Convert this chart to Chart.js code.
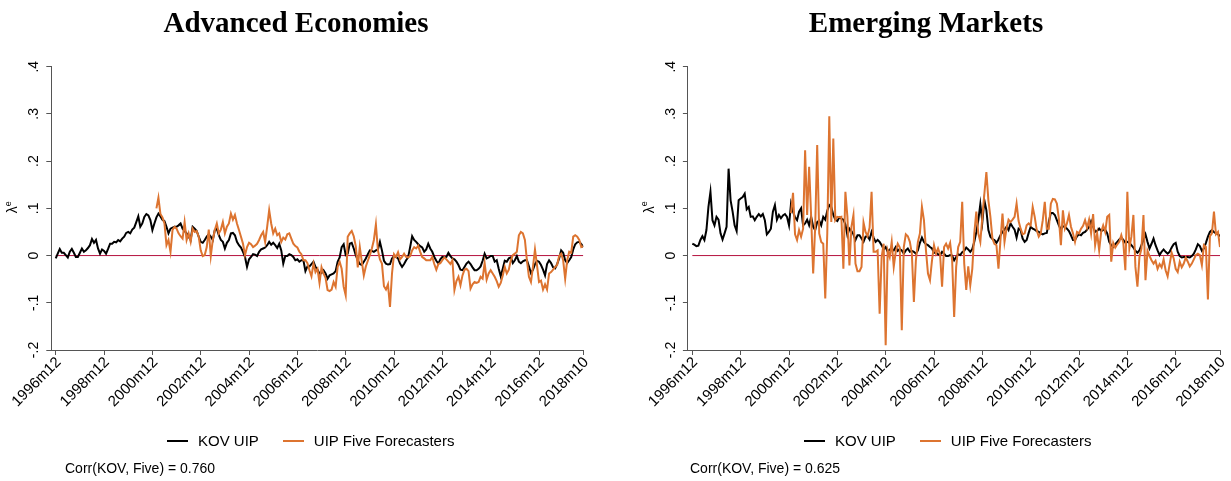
<!DOCTYPE html>
<html>
<head>
<meta charset="utf-8">
<script src="https://cdn.jsdelivr.net/npm/chart.js@4.4.0/dist/chart.umd.min.js"></script>
<style>
  body { margin: 0; background: #fff; width: 1231px; height: 481px; position: relative; overflow: hidden; }
  canvas { position: absolute; top: 0; }
  .title { position: absolute; top: 6px; height: 30px; line-height: 30px; font: bold 29px "Liberation Serif", "Times New Roman", serif; white-space: nowrap; transform: translateX(-50%); color: #000; }
  .legend { position: absolute; top: 432px; height: 16px; line-height: 16px; font: 15px "Liberation Sans", Arial, sans-serif; white-space: nowrap; color: #000; }
  .legend span.key { display: inline-block; width: 21px; height: 2px; vertical-align: middle; margin-right: 10px; position: relative; top: -1px; }
  .legend span.item { margin-right: 24px; }
  .note { position: absolute; top: 460px; line-height: 16px; font: 14px "Liberation Sans", Arial, sans-serif; white-space: nowrap; color: #000; }
</style>
</head>
<body>
<canvas id="adv" width="615" height="481" style="left:0"></canvas>
<canvas id="em" width="616" height="481" style="left:615px"></canvas>

<div class="title" style="left:296px">Advanced Economies</div>
<div class="title" style="left:926px">Emerging Markets</div>

<div class="legend" style="left:167px"><span class="key" style="background:#000"></span><span class="item">KOV UIP</span><span class="key" style="background:#dd7430"></span>UIP Five Forecasters</div>
<div class="legend" style="left:804px"><span class="key" style="background:#000"></span><span class="item">KOV UIP</span><span class="key" style="background:#dd7430"></span>UIP Five Forecasters</div>

<div class="note" style="left:65px">Corr(KOV, Five) = 0.760</div>
<div class="note" style="left:690px">Corr(KOV, Five) = 0.625</div>

<script>
// monthly series, index 0 = 1996m12, last = 2018m10
const xTickLabels = ['1996m12', '1998m12', '2000m12', '2002m12', '2004m12', '2006m12',
  '2008m12', '2010m12', '2012m12', '2014m12', '2016m12', '2018m10'];
const yTickValues = [-0.2, -0.1, 0, 0.1, 0.2, 0.3, 0.4];
const yTickLabels = ['-.2', '-.1', '0', '.1', '.2', '.3', '.4'];

const advKov = [
  -0.006, 0.004, 0.014, 0.006, 0.006, 0.001, -0.004, 0.008, 0.014, 0.006,
  -0.003, -0.003, 0.006, 0.015, 0.008, 0.011, 0.016, 0.022, 0.035, 0.027,
  0.033, 0.015, 0.004, 0.013, 0.010, 0.004, 0.014, 0.025, 0.025, 0.029,
  0.028, 0.033, 0.030, 0.036, 0.040, 0.048, 0.050, 0.047, 0.055, 0.059,
  0.071, 0.083, 0.061, 0.068, 0.082, 0.088, 0.085, 0.075, 0.054, 0.068,
  0.081, 0.089, 0.083, 0.076, 0.073, 0.061, 0.047, 0.057, 0.059, 0.061,
  0.061, 0.064, 0.068, 0.057, 0.052, 0.047, 0.040, 0.033, 0.061, 0.057,
  0.052, 0.040, 0.029, 0.027, 0.033, 0.040, 0.045, 0.040, 0.033, 0.054,
  0.057, 0.043, 0.033, 0.029, 0.015, 0.027, 0.033, 0.047, 0.048, 0.043,
  0.029, 0.022, 0.017, 0.008, -0.003, -0.024, -0.008, -0.003, 0.003, 0.002,
  -0.001, 0.008, 0.013, 0.015, 0.017, 0.022, 0.029, 0.023, 0.027, 0.022,
  0.016, 0.025, 0.011, -0.017, -0.001, -0.001, 0.003, 0.001, -0.003, -0.010,
  -0.008, -0.013, -0.010, -0.010, -0.033, -0.023, -0.023, -0.018, -0.013, -0.024,
  -0.030, -0.038, -0.037, -0.031, -0.038, -0.049, -0.042, -0.040, -0.038, -0.033,
  -0.013, -0.004, 0.018, 0.024, 0.001, 0.004, 0.025, 0.027, 0.015, 0.001,
  -0.010, -0.018, -0.020, -0.013, -0.006, 0.003, 0.011, 0.010, 0.008, 0.011,
  0.013, 0.029, 0.011, -0.011, -0.017, -0.019, -0.018, -0.006, -0.001, -0.003,
  -0.006, -0.017, -0.024, -0.018, -0.010, -0.004, 0.018, 0.041, 0.033, 0.029,
  0.024, 0.020, 0.017, 0.008, 0.013, 0.025, 0.015, 0.008, -0.003, -0.011,
  -0.017, -0.008, -0.003, -0.004, -0.003, 0.006, -0.001, -0.006, -0.008, -0.013,
  -0.020, -0.030, -0.031, -0.024, -0.017, -0.013, -0.018, -0.025, -0.031, -0.031,
  -0.028, -0.023, -0.011, 0.004, -0.006, -0.004, -0.001, -0.001, -0.013, -0.010,
  -0.028, -0.044, -0.028, -0.011, -0.013, -0.006, -0.004, -0.016, -0.010, -0.001,
  -0.013, -0.016, -0.012, -0.010, -0.010, -0.023, -0.037, -0.030, -0.018, -0.011,
  -0.013, -0.020, -0.030, -0.042, -0.018, -0.010, -0.016, -0.025, -0.027, -0.018,
  -0.006, 0.011, 0.006, -0.010, -0.016, -0.010, -0.003, 0.013, 0.024, 0.028,
  0.029, 0.024, 0.018
];

// Five Forecasters series begin later than KOV
const advFiveStart = 50;
const advFive = [
  0.100, 0.123, 0.088, 0.081, 0.068, 0.022, 0.033, 0.008, 0.054, 0.061,
  0.057, 0.047, 0.041, 0.036, 0.071, 0.033, 0.047, 0.029, 0.057, 0.050,
  0.052, 0.040, 0.011, -0.001, 0.001, 0.018, 0.055, -0.001, 0.033, 0.054,
  0.068, 0.047, 0.055, 0.071, 0.047, 0.061, 0.068, 0.089, 0.076, 0.086,
  0.068, 0.054, 0.040, 0.025, 0.001, 0.018, 0.027, 0.024, 0.018, 0.021,
  0.025, 0.033, 0.043, 0.050, 0.029, 0.061, 0.096, 0.068, 0.047, 0.057,
  0.043, 0.047, 0.029, 0.038, 0.034, 0.045, 0.047, 0.036, 0.025, 0.020,
  0.017, 0.008, 0.003, -0.010, -0.010, -0.016, -0.031, -0.044, -0.017, -0.035,
  -0.028, -0.058, -0.025, -0.038, -0.047, -0.073, -0.075, -0.072, -0.056, -0.066,
  -0.024, -0.013, -0.028, -0.066, -0.084, 0.040, 0.047, 0.052, 0.041, 0.020,
  -0.025, 0.018, -0.013, -0.042, -0.023, -0.011, 0.001, 0.015, 0.033, 0.066,
  0.011, -0.008, -0.017, -0.065, -0.072, -0.061, -0.109, -0.038, 0.003, -0.003,
  0.007, -0.008, -0.003, 0.004, -0.003, -0.004, -0.001, 0.011, 0.018, 0.015,
  0.021, 0.008, -0.003, -0.006, -0.010, -0.010, -0.010, -0.003, -0.018, -0.030,
  -0.018, -0.016, -0.010, -0.004, -0.008, -0.013, -0.018, -0.010, -0.073, -0.054,
  -0.045, -0.063, -0.042, -0.030, -0.028, -0.033, -0.070, -0.061, -0.056, -0.058,
  -0.056, -0.045, -0.049, -0.016, -0.051, -0.038, -0.031, -0.038, -0.045, -0.054,
  -0.066, -0.058, -0.042, -0.024, -0.038, -0.030, -0.010, 0.001, 0.004, 0.008,
  0.043, 0.050, 0.047, 0.033, -0.010, -0.045, -0.056, -0.024, 0.013, -0.020,
  -0.056, -0.053, -0.072, -0.061, -0.072, -0.038, -0.035, -0.030, -0.024, -0.020,
  -0.001, 0.004, -0.010, -0.049, -0.010, 0.008, 0.006, 0.040, 0.043, 0.040,
  0.033, 0.018, 0.020
];

const emKov = [
  0.025, 0.023, 0.020, 0.021, 0.033, 0.041, 0.033, 0.054, 0.103, 0.135,
  0.075, 0.064, 0.082, 0.076, 0.047, 0.034, 0.047, 0.061, 0.184, 0.117,
  0.093, 0.064, 0.052, 0.117, 0.121, 0.124, 0.131, 0.098, 0.103, 0.082,
  0.083, 0.075, 0.082, 0.088, 0.083, 0.088, 0.075, 0.045, 0.050, 0.057,
  0.093, 0.107, 0.076, 0.086, 0.079, 0.085, 0.088, 0.082, 0.064, 0.110,
  0.093, 0.081, 0.075, 0.093, 0.100, 0.064, 0.068, 0.076, 0.064, 0.082,
  0.061, 0.054, 0.071, 0.074, 0.064, 0.082, 0.076, 0.095, 0.107, 0.103,
  0.086, 0.076, 0.073, 0.081, 0.078, 0.076, 0.066, 0.043, 0.057, 0.052,
  0.045, 0.033, 0.043, 0.043, 0.036, 0.029, 0.040, 0.041, 0.034, 0.050,
  0.038, 0.029, 0.033, 0.029, 0.022, 0.013, 0.018, 0.008, 0.013, 0.013,
  0.011, 0.018, 0.010, 0.014, 0.011, 0.004, 0.011, 0.015, 0.008, 0.010,
  0.008, 0.004, 0.011, 0.027, 0.038, 0.029, 0.024, 0.022, 0.018, 0.015,
  0.006, 0.006, 0.003, 0.001, 0.008, 0.004, -0.001, -0.001, 0.001, 0.000,
  -0.010, -0.003, 0.003, 0.001, 0.007, 0.010, 0.017, 0.013, 0.008, 0.014,
  0.029, 0.050, 0.075, 0.109, 0.071, 0.117, 0.096, 0.054, 0.040, 0.035,
  0.033, 0.027, 0.034, 0.043, 0.050, 0.055, 0.061, 0.054, 0.068, 0.061,
  0.055, 0.038, 0.057, 0.054, 0.036, 0.029, 0.033, 0.048, 0.061, 0.057,
  0.055, 0.052, 0.050, 0.047, 0.045, 0.047, 0.048, 0.071, 0.090, 0.090,
  0.086, 0.075, 0.064, 0.055, 0.062, 0.061, 0.057, 0.052, 0.043, 0.033,
  0.033, 0.041, 0.045, 0.043, 0.048, 0.050, 0.055, 0.061, 0.073, 0.062,
  0.050, 0.052, 0.057, 0.052, 0.054, 0.055, 0.047, 0.029, 0.022, 0.018,
  0.024, 0.029, 0.034, 0.038, 0.033, 0.027, 0.029, 0.027, 0.022, 0.017,
  0.010, 0.006, 0.011, 0.022, 0.033, 0.045, 0.029, 0.015, 0.025, 0.036,
  0.022, 0.011, 0.001, 0.008, 0.013, 0.008, 0.004, 0.008, 0.017, 0.024,
  0.027, 0.008, -0.001, -0.004, -0.003, -0.003, -0.003, -0.004, -0.001, 0.004,
  0.013, 0.024, 0.020, 0.010, 0.015, 0.027, 0.040, 0.050, 0.054, 0.050,
  0.047, 0.045, 0.041
];

const emFiveStart = 49;
const emFive = [
  0.090,
  0.133, 0.045, 0.033, 0.054, 0.040, 0.057, 0.223, 0.086, 0.188, 0.082,
  -0.038, 0.061, 0.234, 0.047, 0.029, 0.025, -0.091, 0.047, 0.295, 0.071,
  0.248, 0.075, 0.082, 0.081, 0.082, -0.028, 0.135, 0.082, -0.021, 0.061,
  0.086, -0.017, -0.033, -0.033, -0.024, 0.070, 0.050, 0.041, 0.059, 0.135,
  0.008, 0.008, 0.011, -0.123, -0.003, 0.025, -0.190, 0.011, -0.003, 0.029,
  -0.024, 0.008, 0.025, 0.017, -0.158, 0.018, 0.045, 0.041, 0.029, 0.004,
  -0.098, -0.010, 0.029, 0.047, 0.103, 0.075, 0.011, -0.038, -0.052, -0.010,
  0.022, 0.004, 0.015, 0.003, -0.066, 0.018, 0.025, 0.015, 0.027, -0.010,
  -0.130, -0.024, 0.018, 0.029, 0.114, -0.017, -0.073, -0.023, -0.063, -0.028,
  0.047, 0.093, 0.047, 0.029, 0.082, 0.131, 0.177, 0.117, 0.082, 0.036,
  0.025, 0.022, -0.028, 0.033, 0.089, 0.029, 0.057, 0.076, 0.071, 0.076,
  0.082, 0.110, 0.073, 0.057, 0.045, 0.047, 0.064, 0.068, 0.064, 0.103,
  0.082, 0.054, 0.040, 0.047, 0.075, 0.114, 0.057, 0.057, 0.110, 0.120,
  0.119, 0.110, 0.078, 0.022, 0.096, 0.057, 0.068, 0.086, 0.061, 0.047,
  0.029, 0.050, 0.047, 0.057, 0.063, 0.075, 0.059, 0.076, 0.047, 0.088,
  0.022, 0.047, 0.011, 0.050, 0.064, 0.050, 0.082, 0.086, -0.013, 0.027,
  0.017, 0.024, 0.029, 0.043, 0.027, -0.031, 0.135, 0.015, 0.040, 0.086,
  -0.024, -0.066, -0.003, 0.015, 0.086, -0.052, 0.010, -0.001, -0.010, -0.017,
  -0.011, -0.028, -0.018, -0.025, -0.008, -0.031, -0.044, -0.018, 0.006, -0.006,
  -0.028, -0.035, -0.013, -0.025, -0.017, -0.004, -0.013, -0.023, -0.017, -0.008,
  0.001, 0.004, 0.001, -0.020, 0.022, 0.018, -0.093, 0.041, 0.047, 0.093,
  0.045, 0.050, 0.018
];

const ORANGE = '#dd7430';
const ZERO_RED = '#b5123e';
const AXIS_GRAY = '#555';

function monthIndex(label) {
  const [y, m] = label.split('m').map(Number);
  return (y - 1996) * 12 + (m - 12);
}
const xTickMonths = xTickLabels.map(monthIndex);
const lastMonth = xTickMonths[xTickMonths.length - 1];

const axisText = {
  id: 'axisText',
  afterDraw(chart) {
    const ctx = chart.ctx;
    const area = chart.chartArea;
    const xs = chart.scales.x, ys = chart.scales.y;
    ctx.save();
    ctx.fillStyle = '#000';
    ctx.font = '14px "Liberation Sans", Arial, sans-serif';

    // y tick labels, rotated
    yTickValues.forEach((v, i) => {
      const py = ys.getPixelForValue(v);
      ctx.save();
      ctx.translate(area.left - 17, py);
      ctx.rotate(-Math.PI / 2);
      ctx.textAlign = 'center';
      ctx.textBaseline = 'middle';
      ctx.fillText(yTickLabels[i], 0, 0);
      ctx.restore();
    });

    // x tick labels at 45 degrees
    ctx.font = '15px "Liberation Sans", Arial, sans-serif';
    xTickMonths.forEach((m, i) => {
      const px = xs.getPixelForValue(m);
      ctx.save();
      ctx.translate(px + 3, area.bottom + 10);
      ctx.rotate(-Math.PI / 4);
      ctx.textAlign = 'right';
      ctx.textBaseline = 'middle';
      ctx.fillText(xTickLabels[i], 0, 0);
      ctx.restore();
    });

    // y axis title: lambda with superscript e
    const midY = ys.getPixelForValue(0.1);
    ctx.save();
    ctx.translate(area.left - 38, midY);
    ctx.rotate(-Math.PI / 2);
    ctx.textBaseline = 'middle';
    ctx.textAlign = 'left';
    ctx.font = '14px "Liberation Sans", Arial, sans-serif';
    const w = ctx.measureText('λ').width;
    ctx.fillText('λ', -5, 0);
    ctx.font = '9px "Liberation Sans", Arial, sans-serif';
    ctx.fillText('e', -5 + w, -5);
    ctx.restore();

    ctx.restore();
  }
};

function makePanel(id, kov, five, fiveStart, area) {
  const canvas = document.getElementById(id);
  const W = canvas.width, H = canvas.height;
  const kovPts = kov.map((v, i) => ({ x: i, y: v }));
  const fivePts = five.map((v, i) => ({ x: fiveStart + i, y: v }));
  const axisGrid = { display: true, drawOnChartArea: false, drawTicks: true, tickLength: 5, color: AXIS_GRAY, lineWidth: 1 };
  const axisBorder = { display: true, color: AXIS_GRAY, width: 1 };

  new Chart(canvas, {
    type: 'line',
    data: {
      datasets: [
        { label: 'UIP Five Forecasters', data: fivePts, borderColor: ORANGE, borderWidth: 2, pointRadius: 0, tension: 0, order: 1 },
        { label: 'KOV UIP', data: kovPts, borderColor: '#000', borderWidth: 2, pointRadius: 0, tension: 0, order: 2 },
        { label: 'zero', data: [{ x: 0, y: 0 }, { x: lastMonth, y: 0 }], borderColor: ZERO_RED, borderWidth: 1, pointRadius: 0, order: 3 }
      ]
    },
    options: {
      responsive: false,
      animation: false,
      events: [],
      layout: { padding: { left: area.left, right: W - area.right, top: area.top, bottom: H - area.bottom } },
      plugins: { legend: { display: false }, tooltip: { enabled: false } },
      scales: {
        x: {
          type: 'linear', min: -2.2, max: lastMonth,
          afterBuildTicks: s => { s.ticks = xTickMonths.map(v => ({ value: v })); },
          afterFit: s => { s.height = 0; },
          grid: axisGrid, border: axisBorder,
          ticks: { display: false }
        },
        y: {
          min: -0.2, max: 0.4,
          afterBuildTicks: s => { s.ticks = yTickValues.map(v => ({ value: v })); },
          afterFit: s => { s.width = 0; },
          grid: axisGrid, border: axisBorder,
          ticks: { display: false }
        }
      }
    },
    plugins: [axisText]
  });
}

makePanel('adv', advKov, advFive, advFiveStart, { left: 51.3, right: 583.3, top: 66.7, bottom: 350 });
makePanel('em', emKov, emFive, emFiveStart, { left: 687.9 - 615, right: 1220 - 615, top: 66.7, bottom: 350 });
</script>
</body>
</html>
